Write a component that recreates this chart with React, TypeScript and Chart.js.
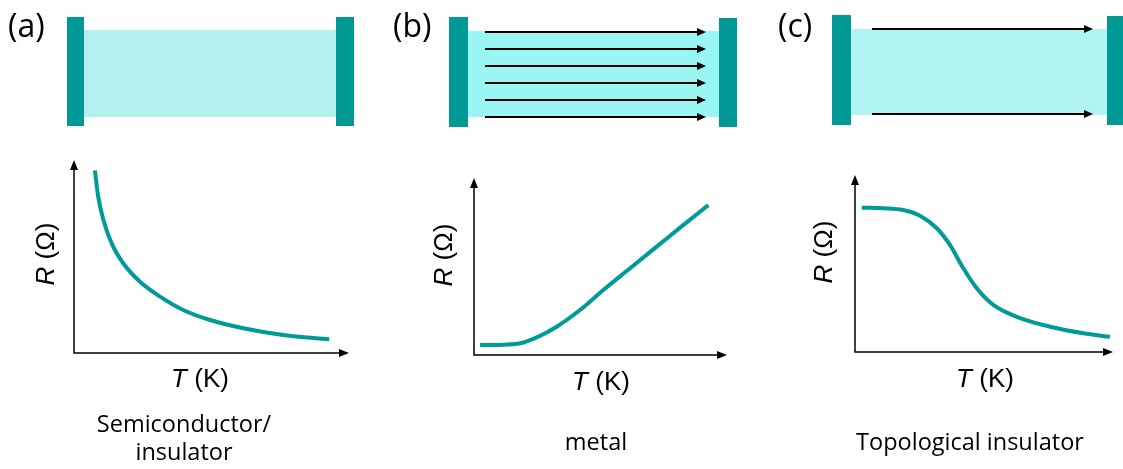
import React, { useEffect, useRef } from 'react';
import { Chart, registerables } from 'chart.js';
Chart.register(...registerables);

// Semiconductor / insulator: R(T) decreasing
const semiT = [0.76, 0.88, 1.07, 1.37, 1.79, 2.4, 3.13, 3.97, 4.95, 6.16, 7.61, 9.28];
const semiR = [9.45, 8.1, 6.89, 5.68, 4.65, 3.69, 2.92, 2.23, 1.71, 1.28, 0.93, 0.71];
// Metal: R(T) increasing
const metalT = [0.24, 1.16, 1.82, 2.48, 3.27, 4.19, 5.11, 6.17, 7.22, 8.27, 9.26];
const metalR = [0.56, 0.58, 0.66, 1.0, 1.6, 2.54, 3.67, 4.9, 6.12, 7.34, 8.47];
// Topological insulator
const topoT = [0.26, 1.1, 1.87, 2.52, 3.17, 3.68, 4.2, 4.72, 5.36, 6.27, 7.56, 8.85, 9.88];
const topoR = [8.15, 8.12, 8.02, 7.7, 6.99, 6.05, 4.73, 3.6, 2.66, 1.99, 1.43, 1.06, 0.86];

const panelLetters = ['(a)', '(b)', '(c)'];
const captions = [['Semiconductor/', 'insulator'], ['metal'], ['Topological insulator']];
const arrowCounts = [0, 6, 2];
const xLabel = 'T';
const xUnit = ' (K)';
const yLabel = 'R';
const yUnit = ' (Ω)';

const TEAL = '#009a98';
const CONTACT = '#009996';

type Panel = {
  left: number; width: number;
  plot: { l: number; t: number; r: number; b: number };
  letterX: number;
  contactL: [number, number, number, number];
  contactR: [number, number, number, number];
  body: [number, number, number, number];
  bodyColor: string;
  arrowX: [number, number];
  arrowY: [number, number];
  rPos: [number, number];
  tPos: [number, number];
  capX: number;
  capY: number;
  T: number[]; R: number[];
};

const panels: Panel[] = [
  {
    left: 0, width: 375,
    plot: { l: 74, t: 160, r: 349, b: 353 },
    letterX: 8,
    contactL: [67, 17, 84, 126], contactR: [336, 17, 354, 126],
    body: [84, 30, 336, 117], bodyColor: '#b3f0f0',
    arrowX: [0, 0], arrowY: [0, 0],
    rPos: [47, 254], tPos: [200, 380], capX: 184, capY: 425,
    T: semiT, R: semiR,
  },
  {
    left: 375, width: 385,
    plot: { l: 99, t: 178, r: 352, b: 355 },
    letterX: 18,
    contactL: [74, 17, 93, 127], contactR: [344, 18, 362, 127],
    body: [93, 31, 344, 117], bodyColor: '#99f6f2',
    arrowX: [110, 331], arrowY: [32, 117],
    rPos: [70, 255], tPos: [226, 383], capX: 221, capY: 443,
    T: metalT, R: metalR,
  },
  {
    left: 760, width: 363,
    plot: { l: 95, t: 175, r: 353, b: 352 },
    letterX: 18,
    contactL: [72, 15, 91, 125], contactR: [347, 16, 366, 125],
    body: [91, 29, 347, 115], bodyColor: '#b1f4f4',
    arrowX: [112, 333], arrowY: [29, 114],
    rPos: [65, 252], tPos: [225, 380], capX: 210, capY: 443,
    T: topoT, R: topoR,
  },
];

const H = 469;
const TITLE_FONT = 26;

function arrowHead(ctx: CanvasRenderingContext2D, x: number, y: number, dir: 'right' | 'up', len: number, half: number) {
  ctx.beginPath();
  if (dir === 'right') {
    ctx.moveTo(x, y);
    ctx.lineTo(x - len, y - half);
    ctx.lineTo(x - len, y + half);
  } else {
    ctx.moveTo(x, y);
    ctx.lineTo(x - half, y + len);
    ctx.lineTo(x + half, y + len);
  }
  ctx.closePath();
  ctx.fill();
}

function PanelChart({ p, idx }: { p: Panel; idx: number }) {
  const ref = useRef<HTMLCanvasElement>(null);
  useEffect(() => {
    const canvas = ref.current!;
    const deco = {
      id: 'deco' + idx,
      beforeDatasetsDraw(chart: any) {
        const ctx = chart.ctx as CanvasRenderingContext2D;
        const ca = chart.chartArea;
        ctx.save();
        // device diagram
        ctx.fillStyle = p.bodyColor;
        const [bx0, by0, bx1, by1] = p.body;
        ctx.fillRect(bx0, by0, bx1 - bx0, by1 - by0);
        ctx.fillStyle = CONTACT;
        for (const c of [p.contactL, p.contactR]) {
          ctx.fillRect(c[0], c[1], c[2] - c[0], c[3] - c[1]);
        }
        const n = arrowCounts[idx];
        ctx.strokeStyle = '#000';
        ctx.fillStyle = '#000';
        ctx.lineWidth = 1.8;
        for (let i = 0; i < n; i++) {
          const y = n === 1 ? p.arrowY[0] : p.arrowY[0] + (i * (p.arrowY[1] - p.arrowY[0])) / (n - 1);
          ctx.beginPath();
          ctx.moveTo(p.arrowX[0], y);
          ctx.lineTo(p.arrowX[1] - 6, y);
          ctx.stroke();
          arrowHead(ctx, p.arrowX[1], y, 'right', 9, 4);
        }
        // panel letter
        ctx.fillStyle = '#000';
        ctx.font = '32px "Open Sans", sans-serif';
        ctx.textBaseline = 'middle';
        ctx.textAlign = 'left';
        ctx.fillText(panelLetters[idx], p.letterX, 28);
        // axes
        ctx.strokeStyle = '#000';
        ctx.lineWidth = 1.5;
        ctx.beginPath();
        ctx.moveTo(ca.left, ca.top + 6);
        ctx.lineTo(ca.left, ca.bottom);
        ctx.lineTo(ca.right - 6, ca.bottom);
        ctx.stroke();
        arrowHead(ctx, ca.right, ca.bottom, 'right', 10, 4);
        arrowHead(ctx, ca.left, ca.top, 'up', 10, 4);
        // axis titles
        const f = TITLE_FONT + 'px "Liberation Sans", Arial, sans-serif';
        const drawTitle = (main: string, unit: string) => {
          ctx.font = 'italic ' + f;
          const w1 = ctx.measureText(main).width;
          ctx.font = f;
          const w2 = ctx.measureText(unit).width;
          const total = w1 + w2;
          ctx.textAlign = 'left';
          ctx.textBaseline = 'middle';
          ctx.font = 'italic ' + f;
          ctx.fillText(main, -total / 2, 0);
          ctx.font = f;
          ctx.fillText(unit, -total / 2 + w1, 0);
        };
        ctx.save();
        ctx.translate(p.tPos[0], p.tPos[1]);
        drawTitle(xLabel, xUnit);
        ctx.restore();
        ctx.save();
        ctx.translate(p.rPos[0], p.rPos[1]);
        ctx.rotate(-Math.PI / 2);
        drawTitle(yLabel, yUnit);
        ctx.restore();
        // captions
        ctx.font = '23.5px "Open Sans", sans-serif';
        ctx.textAlign = 'center';
        ctx.textBaseline = 'middle';
        captions[idx].forEach((line, i) => ctx.fillText(line, p.capX, p.capY + i * 28));
        ctx.restore();
      },
    };
    const chart = new Chart(canvas, {
      type: 'line',
      data: {
        datasets: [
          {
            data: p.T.map((t, i) => ({ x: t, y: p.R[i] })),
            borderColor: TEAL,
            borderWidth: 4,
            pointRadius: 0,
            cubicInterpolationMode: 'monotone',
            fill: false,
            clip: false as any,
          },
        ],
      },
      options: {
        responsive: false,
        animation: false,
        events: [],
        layout: {
          padding: {
            left: p.plot.l,
            top: p.plot.t,
            right: p.width - p.plot.r,
            bottom: H - p.plot.b,
          },
        },
        scales: {
          x: { type: 'linear', min: 0, max: 10, display: false },
          y: { type: 'linear', min: 0, max: 10, display: false },
        },
        plugins: { legend: { display: false }, tooltip: { enabled: false } },
      },
      plugins: [deco],
    });
    return () => chart.destroy();
  }, [p, idx]);
  return (
    <canvas
      ref={ref}
      width={p.width}
      height={H}
      style={{ position: 'absolute', left: p.left, top: 0, width: p.width, height: H }}
    />
  );
}

export default function App() {
  return (
    <div style={{ position: 'absolute', left: 0, top: 0, width: 1123, height: H, background: '#fff', overflow: 'hidden' }}>
      {panels.map((p, i) => (
        <PanelChart key={i} p={p} idx={i} />
      ))}
    </div>
  );
}
